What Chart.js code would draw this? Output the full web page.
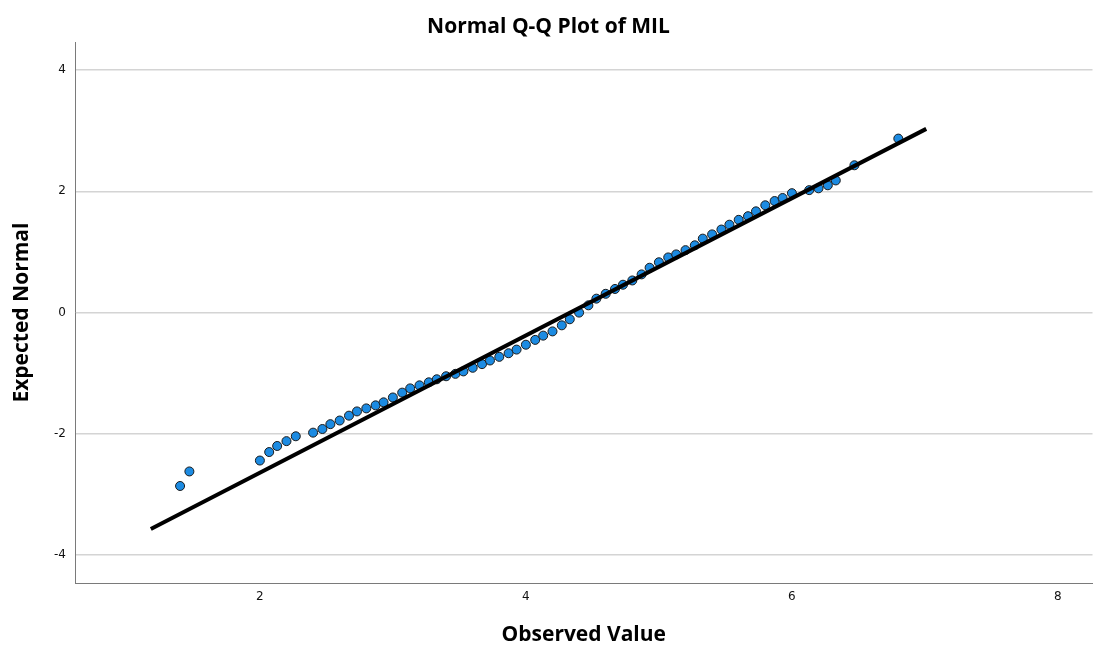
<!DOCTYPE html>
<html>
<head>
<meta charset="utf-8">
<script src="https://cdn.jsdelivr.net/npm/chart.js@4"></script>
<style>
  html, body { margin: 0; padding: 0; background: #ffffff; overflow: hidden; }
  #wrap { width: 1098px; height: 646px; }
  canvas { display: block; }
</style>
</head>
<body>
<div id="wrap"><canvas id="c" width="1098" height="646"></canvas></div>
<script>
const observedValues = [
  1.40, 1.47, 2.00, 2.07, 2.13, 2.20, 2.27, 2.40, 2.47, 2.53,
  2.60, 2.67, 2.73, 2.80, 2.87, 2.93, 3.00, 3.07, 3.13, 3.20,
  3.27, 3.33, 3.40, 3.47, 3.53, 3.60, 3.67, 3.73, 3.80, 3.87,
  3.93, 4.00, 4.07, 4.13, 4.20, 4.27, 4.33, 4.40, 4.47, 4.53,
  4.60, 4.67, 4.73, 4.80, 4.87, 4.93, 5.00, 5.07, 5.13, 5.20,
  5.27, 5.33, 5.40, 5.47, 5.53, 5.60, 5.67, 5.73, 5.80, 5.87,
  5.93, 6.00, 6.13, 6.20, 6.27, 6.33, 6.47, 6.80
];
const expectedNormal = [
  -2.86, -2.62, -2.44, -2.30, -2.20, -2.12, -2.04, -1.98, -1.92, -1.84,
  -1.78, -1.70, -1.63, -1.58, -1.53, -1.48, -1.40, -1.32, -1.25, -1.20,
  -1.15, -1.10, -1.05, -1.01, -0.97, -0.91, -0.85, -0.79, -0.73, -0.67,
  -0.61, -0.53, -0.45, -0.38, -0.31, -0.21, -0.11, 0.00, 0.12, 0.23,
  0.31, 0.39, 0.46, 0.53, 0.63, 0.74, 0.83, 0.91, 0.96, 1.03,
  1.11, 1.22, 1.29, 1.37, 1.45, 1.53, 1.59, 1.67, 1.77, 1.84,
  1.89, 1.97, 2.02, 2.05, 2.10, 2.18, 2.43, 2.87
];
// Reference line end points
const lineX = [1.18, 7.01];
const lineY = [-3.57, 3.03];
// Tick labels
const xTicks = [2, 4, 6, 8];
const yTicks = [-4, -2, 0, 2, 4];
const xRange = [0.61, 8.26];
const yRange = [-4.46, 4.46];

const TITLE_FONT = "'Open Sans', 'DejaVu Sans', sans-serif";
const TICK_FONT = "'DejaVu Sans', 'Liberation Sans', sans-serif";

const pts = observedValues.map((x, i) => ({ x: x, y: expectedNormal[i] }));
const linePts = lineX.map((x, i) => ({ x: x, y: lineY[i] }));

new Chart(document.getElementById('c'), {
  type: 'scatter',
  data: {
    datasets: [
      {
        type: 'line',
        data: linePts,
        borderColor: '#000000',
        borderWidth: 4,
        pointRadius: 0,
        fill: false,
        order: 0
      },
      {
        type: 'scatter',
        data: pts,
        backgroundColor: '#1c8be2',
        borderColor: '#1a1a1a',
        borderWidth: 1,
        pointRadius: 4.5,
        order: 1
      }
    ]
  },
  options: {
    responsive: false,
    animation: false,
    devicePixelRatio: 1,
    layout: { padding: { left: 0, right: 1, top: 0, bottom: 0 } },
    plugins: {
      legend: { display: false },
      tooltip: { enabled: false },
      title: {
        display: true,
        text: 'Normal Q-Q Plot of MIL',
        color: '#000000',
        font: { family: TITLE_FONT, size: 21, weight: 'bold', lineHeight: 1.2 },
        padding: { top: 14, bottom: 3 }
      }
    },
    scales: {
      x: {
        type: 'linear',
        min: xRange[0],
        max: xRange[1],
        afterBuildTicks: (s) => { s.ticks = xTicks.map(v => ({ value: v })); },
        afterFit: (s) => { s.height = 63; s.paddingLeft = 0; s.paddingRight = 0; },
        grid: {
          display: true,
          drawOnChartArea: false,
          drawTicks: true,
          tickLength: 7,
          color: 'rgba(0,0,0,0)',
          tickColor: 'rgba(0,0,0,0)'
        },
        border: { display: true, color: '#7a7a7a', width: 1 },
        ticks: {
          color: '#111111',
          padding: 0,
          maxRotation: 0,
          font: { family: TICK_FONT, size: 12 }
        },
        title: {
          display: true,
          text: 'Observed Value',
          color: '#000000',
          font: { family: TITLE_FONT, size: 21, weight: 'bold', lineHeight: 1.2 },
          padding: { top: 0, bottom: -2 }
        }
      },
      y: {
        type: 'linear',
        min: yRange[0],
        max: yRange[1],
        afterBuildTicks: (s) => { s.ticks = yTicks.map(v => ({ value: v })); },
        afterFit: (s) => { s.width = 75; },
        grid: { color: '#d4d4d4', lineWidth: 1.5, drawTicks: false },
        border: { display: true, color: '#7a7a7a', width: 1 },
        ticks: {
          color: '#111111',
          padding: 9,
          font: { family: TICK_FONT, size: 12 }
        },
        title: {
          display: true,
          text: 'Expected Normal',
          color: '#000000',
          font: { family: TITLE_FONT, size: 21, weight: 'bold', lineHeight: 1.2 },
          padding: { top: 9, bottom: 0 }
        }
      }
    }
  }
});
</script>
</body>
</html>
